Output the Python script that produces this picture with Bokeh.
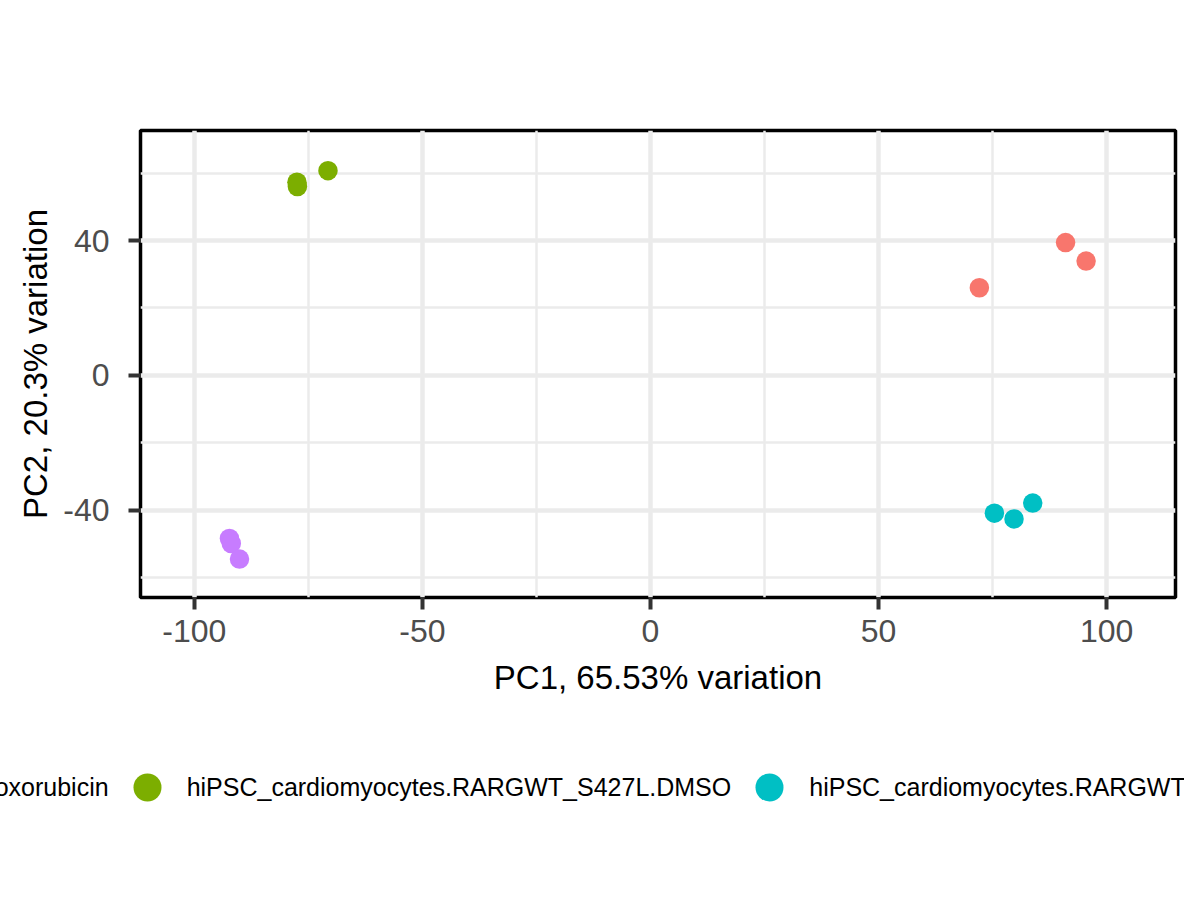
from bokeh.plotting import figure
from bokeh.layouts import column
from bokeh.models import (Range1d, FixedTicker, Legend, LegendItem, ColumnDataSource,
                          PrintfTickFormatter)
from bokeh.embed import file_html
from bokeh.resources import INLINE

# ---- data ----
groups = [
    "hiPSC_cardiomyocytes.RARGWT_S427L.Doxorubicin",
    "hiPSC_cardiomyocytes.RARGWT_S427L.DMSO",
    "hiPSC_cardiomyocytes.RARGWT_WT.Doxorubicin",
    "hiPSC_cardiomyocytes.RARGWT_WT.DMSO",
]
colors = ["#F8766D", "#7CAE00", "#00BFC4", "#C77CFF"]
pc1 = [
    [91.0, 95.5, 72.1],
    [-77.5, -77.4, -70.7],
    [75.4, 79.7, 83.8],
    [-92.3, -91.9, -90.1],
]
pc2 = [
    [39.4, 33.9, 26.0],
    [57.3, 56.0, 60.7],
    [-40.8, -42.5, -37.8],
    [-48.3, -49.8, -54.4],
]
x_ticks = [-100, -50, 0, 50, 100]
x_minor = [-75, -25, 25, 75]
y_ticks = [-40, 0, 40]
y_minor = [-60, -20, 20, 60]
x_title = "PC1, 65.53% variation"
y_title = "PC2, 20.3% variation"

FONT = "Liberation Sans"

p = figure(width=1184, height=740, output_backend="svg", toolbar_location=None,
           x_range=Range1d(-111.8, 115.1), y_range=Range1d(-65.8, 72.6),
           min_border_left=140, min_border_right=9, min_border_top=130,
           min_border_bottom=143)
p.frame_align = False
p.background_fill_color = "white"
p.border_fill_color = "white"
p.outline_line_color = "black"
p.outline_line_width = 3.5

p.xaxis.ticker = FixedTicker(ticks=x_ticks, minor_ticks=x_minor)
p.yaxis.ticker = FixedTicker(ticks=y_ticks, minor_ticks=y_minor)
p.xaxis.formatter = PrintfTickFormatter(format="%d")
p.yaxis.formatter = PrintfTickFormatter(format="%d")

for g in p.grid:
    g.grid_line_color = "#EBEBEB"
    g.grid_line_width = 4.5
    g.minor_grid_line_color = "#EBEBEB"
    g.minor_grid_line_width = 2.5

for ax in (p.xaxis[0], p.yaxis[0]):
    ax.axis_line_color = None
    ax.major_tick_out = 12
    ax.major_tick_in = 0
    ax.major_tick_line_width = 4
    ax.major_tick_line_color = "#333333"
    ax.minor_tick_out = 0
    ax.minor_tick_in = 0
    ax.major_label_text_font = FONT
    ax.major_label_text_font_size = "32px"
    ax.major_label_text_color = "#4D4D4D"
    ax.axis_label_text_font = FONT
    ax.axis_label_text_font_size = "33px"
    ax.axis_label_text_font_style = "normal"
    ax.axis_label_text_color = "black"

p.xaxis.axis_label = x_title
p.yaxis.axis_label = y_title
p.xaxis.major_label_standoff = 10
p.xaxis.axis_label_standoff = 14
p.yaxis.major_label_standoff = 19
p.yaxis.axis_label_standoff = 6

for c, xs, ys in zip(colors, pc1, pc2):
    src = ColumnDataSource(dict(x=xs, y=ys))
    p.scatter("x", "y", source=src, size=19.5, fill_color=c, line_color=None)

# ---- legend strip (horizontal, centred under the panel, overflowing the page) ----
lf = figure(width=1184, height=100, output_backend="svg", toolbar_location=None,
            x_range=Range1d(0, 1), y_range=Range1d(0, 1),
            x_axis_type=None, y_axis_type=None,
            min_border_left=0, min_border_right=0, min_border_top=0, min_border_bottom=0)
lf.frame_align = False
lf.outline_line_color = None
lf.grid.visible = False
lf.background_fill_color = "white"
lf.border_fill_color = "white"

nan = float("nan")
items = []
for g, c in zip(groups, colors):
    r = lf.scatter(x=[nan], y=[nan], size=19.5, fill_color=c, line_color=None)
    items.append(LegendItem(label=g, renderers=[r]))

legend = Legend(items=items, orientation="horizontal", location=(-568, 18),
                glyph_width=70, glyph_height=70, label_standoff=5, spacing=3,
                padding=0, margin=0, border_line_color=None,
                background_fill_alpha=0,
                label_text_font=FONT, label_text_font_size="25px",
                label_text_color="black")
lf.add_layout(legend, "center")

layout = column(p, lf, spacing=0)
open("out.html", "w").write(file_html(layout, INLINE))
